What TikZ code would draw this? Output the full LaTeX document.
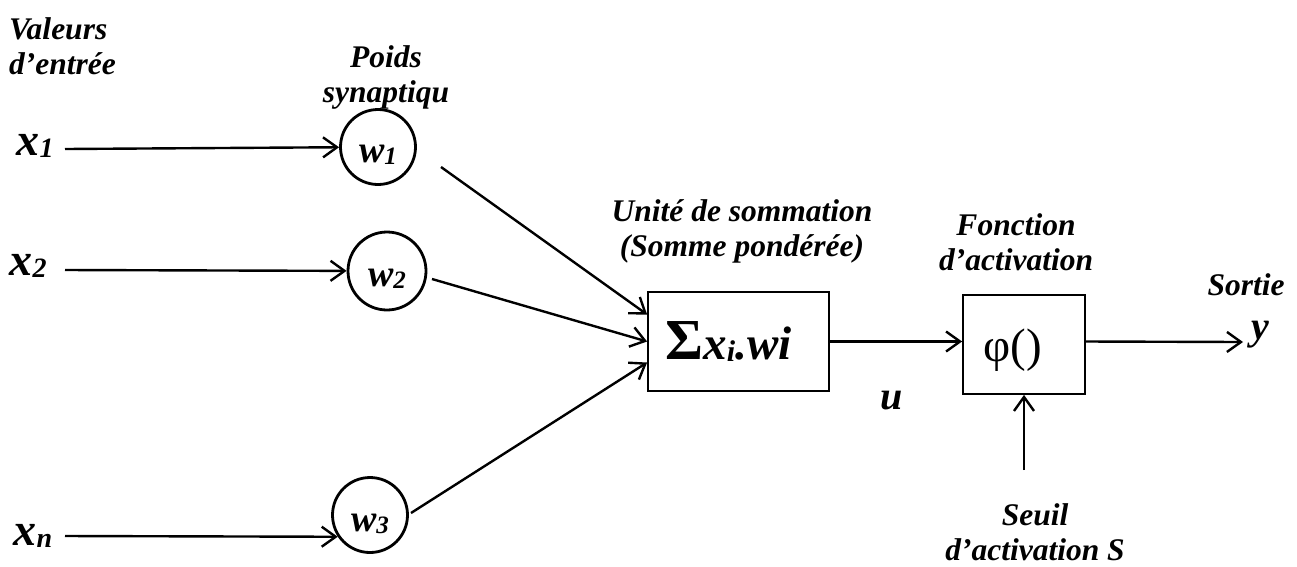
\documentclass[tikz,border=0pt]{standalone}
\usepackage{fontspec}
\setmainfont{Liberation Serif}
\usetikzlibrary{arrows.meta,calc}
\newcommand{\mysub}[2]{{\fontsize{#1}{#1}\selectfont\raisebox{-2pt}{#2}}}
\begin{document}
\begin{tikzpicture}[x=1pt,y=-1pt,line width=2.4pt,
  arr/.style={-{Straight Barb[length=14pt,width=20pt,line width=2.4pt]}},
  lbl/.style={font=\fontsize{31.5}{35}\selectfont\bfseries\itshape,align=center,inner sep=0pt},
  var/.style={font=\fontsize{46}{46}\selectfont\bfseries\itshape,inner sep=0pt},
  wnode/.style={circle,draw,line width=2.8pt,inner sep=0pt,text height=30pt,text depth=0pt,font=\fontsize{38}{38}\selectfont\bfseries\itshape},
  boxnode/.style={draw,line width=1.8pt,inner sep=0pt}]
\useasboundingbox (0,0) rectangle (1297,566);
% labels
\node[lbl,align=left,anchor=west] (valeurs) at (8,46) {Valeurs\\d’entrée};
\node[lbl] (poids) at (386,77) {Poids\\synaptiqu};
\node[lbl] (unite) at (742,231) {Unité de sommation\\(Somme pondérée)};
\node[lbl] (fonction) at (1016,242) {Fonction\\d’activation};
\node[lbl] (sortie) at (1246,285) {Sortie};
\node[lbl] (seuil) at (1035,532) {Seuil\\d’activation S};
% inputs
\node[var] (x1) at (35,146) {x\mysub{28}{1}};
\node[var] (x2) at (28,266) {x\mysub{28}{2}};
\node[var] (xn) at (33,536) {x\mysub{28}{n}};
% weights
\node[wnode,minimum size=75pt] (w1) at (378,147) {w\mysub{25}{1}};
\node[wnode,minimum size=78pt] (w2) at (387,271) {w\mysub{25}{2}};
\node[wnode,minimum size=75pt,text height=33pt] (w3) at (370,515) {w\mysub{25}{3}};
% boxes
\node[boxnode,minimum width=181pt,minimum height=99pt] (sum) at (738.5,341.5)
  {{\fontsize{58}{58}\selectfont\bfseries Σ}{\fontsize{47}{47}\selectfont\bfseries\itshape x\mysub{30}{i}.wi}\hspace*{20pt}};
\node[boxnode,minimum width=122pt,minimum height=99pt] (phi) at (1024,344.5) {};
\node[inner sep=0pt,font=\fontsize{47}{47}\selectfont] (phitext) at (1013,350) {φ()};
\node[var,font=\fontsize{40}{40}\selectfont\bfseries\itshape] (u) at (892,401) {u};
\node[var,font=\fontsize{40}{40}\selectfont\bfseries\itshape] (y) at (1260,335) {y};
% coordinates
\coordinate (s1) at (65,149);
\coordinate (s2) at (65,270);
\coordinate (sn) at (65,536);
\coordinate (a1) at (441,167);
\coordinate (a2) at (432,279);
\coordinate (a3) at (411,513);
\coordinate (yend) at (1243,342);
\coordinate (s0) at (1024,470);
% connectors
\draw[arr] (s1) -- (w1);
\draw[arr] (s2) -- (w2);
\draw[arr] (sn) -- (w3.214);
\draw[arr] (a1) -- ($(sum.west)+(0,-27)$);
\draw[arr] (a2) -- ($(sum.west)+(0,0)$);
\draw[arr] (a3) -- ($(sum.west)+(0,21)$);
\draw[arr] (sum.east) -- (sum.east -| phi.west);
\draw[arr] (phi.east |- sum.east) -- (yend);
\draw[arr] (s0) -- (phi.south);
\end{tikzpicture}
\end{document}
